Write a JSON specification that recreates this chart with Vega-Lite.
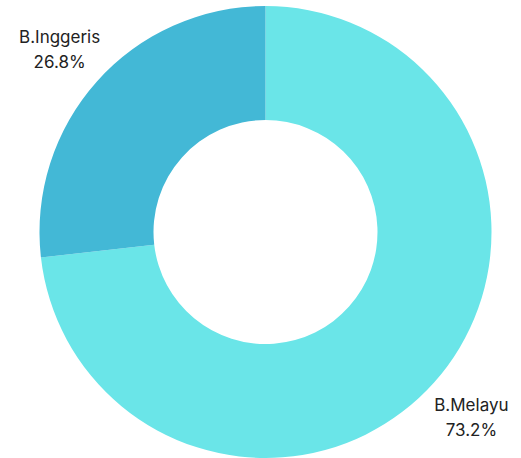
{
  "$schema": "https://vega.github.io/schema/vega-lite/v6.json",
  "width": 531,
  "height": 464,
  "autosize": {"type": "none"},
  "padding": {"left": 0, "top": 0, "right": 0, "bottom": 0},
  "background": "white",
  "data": {
    "values": [
      {"bahasa": "B.Melayu", "pct": 73.2, "order": 1, "label": "B.Melayu\n73.2%"},
      {"bahasa": "B.Inggeris", "pct": 26.8, "order": 2, "label": "B.Inggeris\n26.8%"}
    ]
  },
  "encoding": {
    "theta": {"field": "pct", "type": "quantitative", "stack": true},
    "order": {"field": "order", "type": "quantitative"},
    "color": {
      "field": "bahasa",
      "type": "nominal",
      "scale": {"domain": ["B.Melayu", "B.Inggeris"], "range": ["#6ae5e8", "#43b8d6"]},
      "legend": null
    }
  },
  "layer": [
    {"mark": {"type": "arc", "outerRadius": 226, "innerRadius": 112}},
    {
      "mark": {"type": "text", "radius": 276, "dy": -10, "lineBreak": "\n", "font": "Inter", "fontSize": 17, "fill": "#222222", "align": "center", "baseline": "middle", "lineHeight": 25},
      "encoding": {"text": {"field": "label", "type": "nominal"}, "color": {"value": "#222222"}}
    }
  ]
}
